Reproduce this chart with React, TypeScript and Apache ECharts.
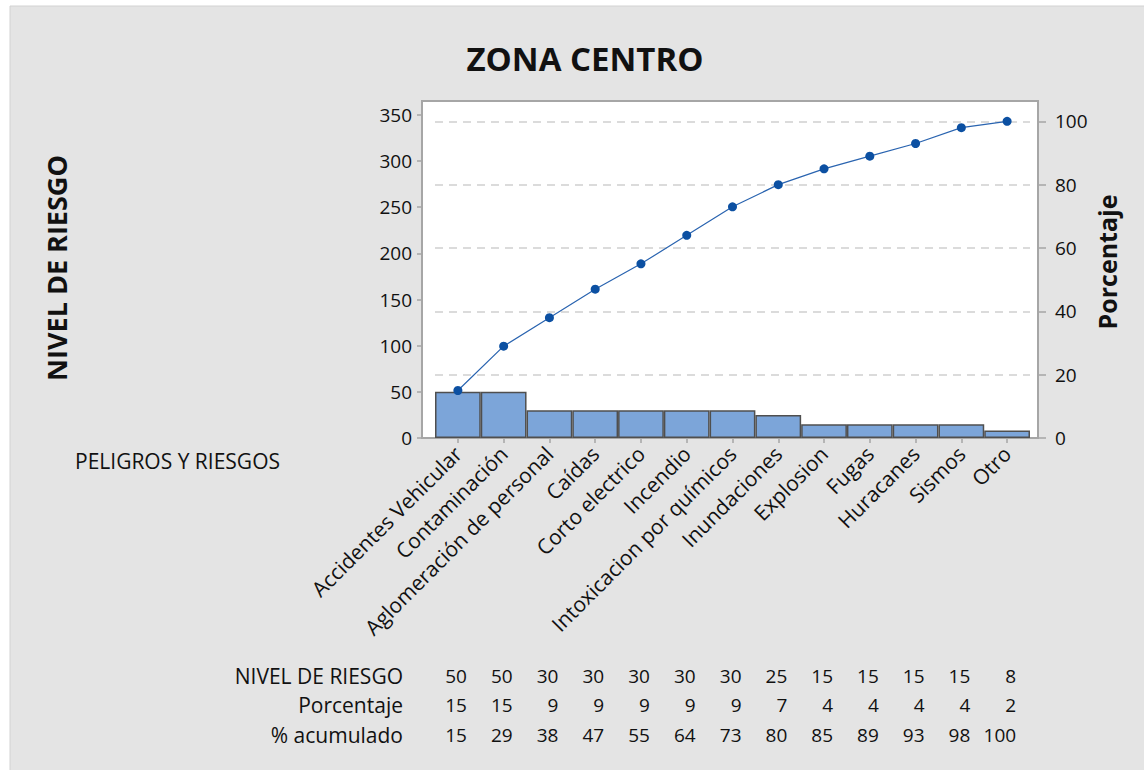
import React, { useEffect, useRef } from "react";
import * as echarts from "echarts";

const categories = [
  "Accidentes Vehicular",
  "Contaminación",
  "Aglomeración de personal",
  "Caídas",
  "Corto electrico",
  "Incendio",
  "Intoxicacion por químicos",
  "Inundaciones",
  "Explosion",
  "Fugas",
  "Huracanes",
  "Sismos",
  "Otro",
];
const nivelRiesgo = [50, 50, 30, 30, 30, 30, 30, 25, 15, 15, 15, 15, 8];
const porcentaje = [15, 15, 9, 9, 9, 9, 9, 7, 4, 4, 4, 4, 2];
const acumulado = [15, 29, 38, 47, 55, 64, 73, 80, 85, 89, 93, 98, 100];
const leftTicks = [0, 50, 100, 150, 200, 250, 300, 350];
const rightTicks = [0, 20, 40, 60, 80, 100];
const tableLabels = ["NIVEL DE RIESGO", "Porcentaje", "% acumulado"];
const totalCount = 343;
const leftMax = 365;

const FONT = "'Open Sans', 'Noto Sans', sans-serif";

export default function App() {
  const ref = useRef<HTMLDivElement>(null);
  useEffect(() => {
    document.body.style.margin = "0";
    const chart = echarts.init(ref.current!, null, { renderer: "svg" });
    const baseGraphic: any[] = [
      {
        type: "rect",
        z: -20,
        silent: true,
        shape: { x: 10, y: 6, width: 1140, height: 770 },
        style: { fill: "#e4e4e4", stroke: "#d2d2d2", lineWidth: 1 },
      },
      {
        type: "rect",
        z: -10,
        silent: true,
        shape: { x: 422, y: 101, width: 616, height: 337 },
        style: { fill: "#ffffff", stroke: "#a6a6a6", lineWidth: 2 },
      },
      {
        type: "text",
        x: 585,
        y: 58,
        style: {
          text: "ZONA CENTRO",
          fontFamily: FONT,
          fontSize: 33,
          fontWeight: "bold",
          fill: "#111",
          align: "center",
          verticalAlign: "middle",
        },
      },
      {
        type: "text",
        x: 56,
        y: 268,
        rotation: Math.PI / 2,
        style: {
          text: "NIVEL DE RIESGO",
          fontFamily: FONT,
          fontSize: 27,
          fontWeight: "bold",
          fill: "#111",
          align: "center",
          verticalAlign: "middle",
        },
      },
      {
        type: "text",
        x: 1107,
        y: 262,
        rotation: Math.PI / 2,
        style: {
          text: "Porcentaje",
          fontFamily: FONT,
          fontSize: 25,
          fontWeight: "bold",
          fill: "#111",
          align: "center",
          verticalAlign: "middle",
        },
      },
      {
        type: "text",
        x: 75,
        y: 461,
        style: {
          text: "PELIGROS Y RIESGOS",
          fontFamily: FONT,
          fontSize: 21,
          fill: "#111",
          align: "left",
          verticalAlign: "middle",
        },
      },
    ];
    const rowY = [676, 705, 735];
    tableLabels.forEach((t, r) => {
      baseGraphic.push({
        type: "text",
        x: 403,
        y: rowY[r],
        style: {
          text: t,
          fontFamily: FONT,
          fontSize: 21,
          fill: "#111",
          align: "right",
          verticalAlign: "middle",
        },
      });
    });

    const option: any = {
      animation: false,
      backgroundColor: "#ffffff",
      textStyle: { fontFamily: FONT },
      grid: { left: 435, right: 114, top: 101, bottom: 332, containLabel: false },
      xAxis: {
        type: "category",
        data: categories,
        boundaryGap: true,
        axisLine: { show: false },
        axisTick: { show: true, alignWithLabel: true, length: 5, lineStyle: { color: "#a6a6a6", width: 1.5 } },
        axisLabel: { rotate: 45, fontSize: 21, color: "#111", margin: 12, interval: 0, fontFamily: FONT },
      },
      yAxis: [
        {
          type: "value",
          position: "left",
          offset: 13,
          min: 0,
          max: leftMax,
          interval: 50,
          axisLine: { show: false },
          axisTick: { show: true, length: 5, customValues: leftTicks, lineStyle: { color: "#a6a6a6", width: 1.5 } },
          axisLabel: { fontSize: 19, color: "#111", margin: 10, customValues: leftTicks, fontFamily: FONT },
          splitLine: { show: false },
        },
        {
          type: "value",
          position: "right",
          offset: 8,
          min: 0,
          max: (leftMax / totalCount) * 100,
          interval: 20,
          axisLine: { show: false },
          axisTick: { show: true, length: 8, customValues: rightTicks, lineStyle: { color: "#a6a6a6", width: 1.5 } },
          axisLabel: { fontSize: 19, color: "#111", margin: 17, customValues: rightTicks, fontFamily: FONT },
          splitLine: { show: false },
        },
      ],
      series: [
        {
          type: "bar",
          data: nivelRiesgo,
          barWidth: "100%",
          barCategoryGap: 0,
          itemStyle: { color: "#7ca5d9", borderColor: "#4f4f4f", borderWidth: 1.5 },
        },
        {
          type: "line",
          yAxisIndex: 1,
          data: acumulado,
          symbol: "circle",
          symbolSize: 9,
          z: 5,
          lineStyle: { color: "#2a64b0", width: 1.2 },
          itemStyle: { color: "#0c50a2" },
          markLine: {
            silent: true,
            symbol: "none",
            label: { show: false },
            z: 1,
            lineStyle: { color: "#cfcfcf", type: [8, 6], width: 1.5 },
            data: rightTicks.filter((v) => v > 0).map((v) => ({ yAxis: v })),
          },
        },
      ],
    };
    chart.setOption(option);

    const tableGraphic: any[] = [];
    const rows = [nivelRiesgo, porcentaje, acumulado];
    categories.forEach((_, i) => {
      const x = chart.convertToPixel({ xAxisIndex: 0 }, i) as number;
      rows.forEach((row, r) => {
        tableGraphic.push({
          type: "text",
          x: x + 9,
          y: rowY[r],
          style: {
            text: String(row[i]),
            fontFamily: FONT,
            fontSize: 19,
            fill: "#111",
            align: "right",
            verticalAlign: "middle",
          },
        });
      });
    });
    chart.setOption({ graphic: [...baseGraphic, ...tableGraphic] });

    return () => chart.dispose();
  }, []);
  return <div ref={ref} style={{ width: 1144, height: 770 }} />;
}
